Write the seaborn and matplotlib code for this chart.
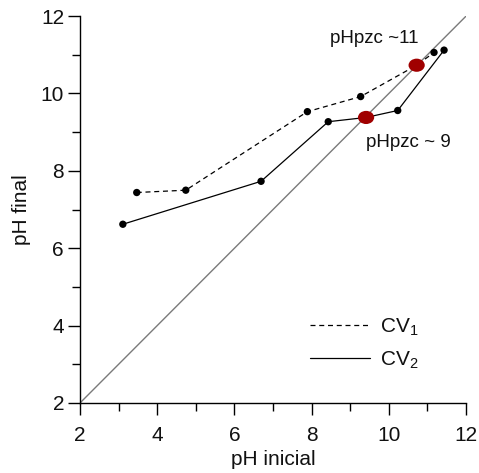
import matplotlib
matplotlib.use("Agg")
import matplotlib.pyplot as plt
import seaborn as sns
import pandas as pd
from matplotlib.ticker import MultipleLocator
from matplotlib.patches import Ellipse

# pH final vs pH inicial for the two samples
cv1_ph_inicial = [3.47, 4.74, 7.89, 9.27, 10.72, 11.17]
cv1_ph_final = [7.44, 7.50, 9.53, 9.92, 10.73, 11.06]
cv2_ph_inicial = [3.11, 6.69, 8.43, 9.41, 10.23, 11.43]
cv2_ph_final = [6.62, 7.73, 9.27, 9.38, 9.56, 11.12]

# points of zero charge (crossing with the 1:1 line)
pzc_x = [10.72, 9.41]
pzc_y = [10.73, 9.38]
pzc_labels = ["pHpzc ~11", "pHpzc ~ 9"]

identity = [2, 12]

sns.set_style("ticks")
plt.rcParams["font.family"] = ["Liberation Sans", "DejaVu Sans"]
plt.rcParams["mathtext.fontset"] = "custom"
plt.rcParams["mathtext.rm"] = "Liberation Sans"
plt.rcParams["mathtext.it"] = "Liberation Sans"

fig = plt.figure(figsize=(4.79, 4.73), dpi=100)
ax = fig.add_axes([0.167, 0.148, 0.806, 0.818])

df1 = pd.DataFrame({"x": cv1_ph_inicial, "y": cv1_ph_final})
df2 = pd.DataFrame({"x": cv2_ph_inicial, "y": cv2_ph_final})

# 1:1 reference line
sns.lineplot(x=identity, y=identity, ax=ax, color="#7a7a7a", lw=1.0, sort=False)

sns.lineplot(data=df1, x="x", y="y", ax=ax, color="black", lw=0.9,
             linestyle=(0, (4, 3)), sort=False, label="CV$_1$")
sns.lineplot(data=df2, x="x", y="y", ax=ax, color="black", lw=0.9,
             sort=False, label="CV$_2$")

# data points (the PZC points are drawn separately)
pts_x, pts_y = [], []
for xs, ys in ((cv1_ph_inicial, cv1_ph_final), (cv2_ph_inicial, cv2_ph_final)):
    for xv, yv in zip(xs, ys):
        if xv not in pzc_x:
            pts_x.append(xv)
            pts_y.append(yv)
sns.scatterplot(x=pts_x, y=pts_y, ax=ax, color="black", s=28, edgecolor="none",
                zorder=4, legend=False)

for px, py in zip(pzc_x, pzc_y):
    ax.add_patch(Ellipse((px, py), 0.42, 0.34, facecolor="#a00000",
                         edgecolor="none", zorder=5))

ax.text(8.48, 11.43, pzc_labels[0], fontsize=13.5, ha="left", va="center", color="#111111")
ax.text(9.41, 8.72, pzc_labels[1], fontsize=13.5, ha="left", va="center", color="#111111")

ax.set_xlim(2, 12)
ax.set_ylim(2, 12)
ax.xaxis.set_major_locator(MultipleLocator(2))
ax.xaxis.set_minor_locator(MultipleLocator(1))
ax.yaxis.set_major_locator(MultipleLocator(2))
ax.yaxis.set_minor_locator(MultipleLocator(1))
ax.tick_params(which="major", length=8.5, width=1, labelsize=15, pad=3,
               color="black", labelcolor="#111111")
ax.tick_params(axis="x", which="major", pad=8)
ax.tick_params(which="minor", length=5.5, width=1, color="black")
sns.despine(ax=ax)
for s in ["left", "bottom"]:
    ax.spines[s].set_color("black")
    ax.spines[s].set_linewidth(1)

ax.set_xlabel("pH inicial", fontsize=15, labelpad=4, color="#111111")
ax.set_ylabel("pH final", fontsize=15, labelpad=7, color="#111111")

leg = ax.legend(loc="lower right", bbox_to_anchor=(0.925, 0.035), frameon=False,
                fontsize=15, handlelength=2.9, handletextpad=0.45, labelspacing=0.55)
for t in leg.get_texts():
    t.set_color("#111111")

fig.savefig("out.png", dpi=100)
